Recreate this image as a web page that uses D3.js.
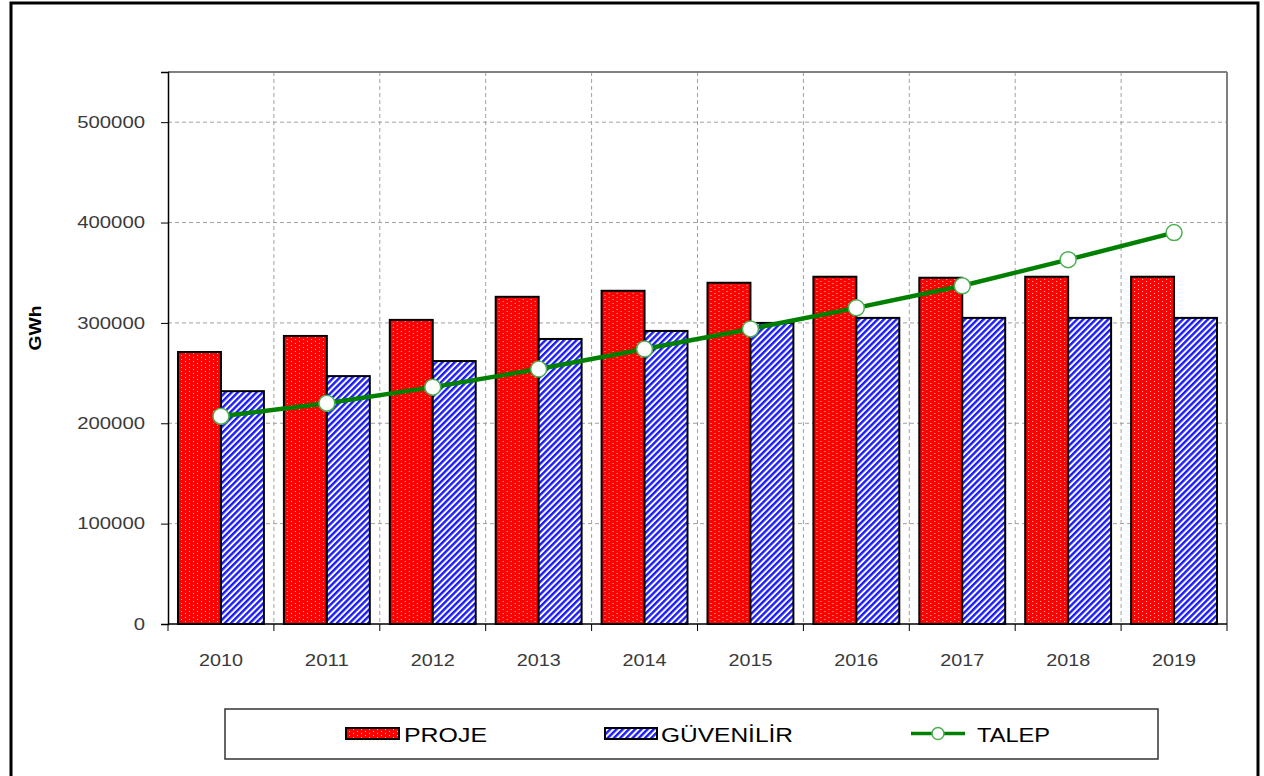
<!DOCTYPE html>
<html>
<head>
<meta charset="utf-8">
<script src="https://cdn.jsdelivr.net/npm/d3@7"></script>
<style>
  html, body { margin: 0; padding: 0; background: #fff; }
  svg { display: block; font-family: "Liberation Sans", Arial, sans-serif; }
</style>
</head>
<body>
<svg id="chart" width="1264" height="776"></svg>
<script>
const years = ["2010","2011","2012","2013","2014","2015","2016","2017","2018","2019"];
const proje = [271000, 287000, 303000, 326000, 332000, 340000, 346000, 345000, 346000, 346000];
const guvenilir = [232000, 247000, 262000, 284000, 292000, 300000, 305000, 305000, 305000, 305000];
const talep = [207000, 220000, 236000, 254000, 274000, 294000, 315000, 337000, 363000, 390000];
const yTicks = [0, 100000, 200000, 300000, 400000, 500000];
const seriesNames = ["PROJE", "GÜVENİLİR", "TALEP"];
const yLabel = "GWh";

const svg = d3.select("#chart");
const defs = svg.append("defs");

// Patterns
const pRed = defs.append("pattern").attr("id","redDots").attr("patternUnits","userSpaceOnUse")
  .attr("width",8).attr("height",4);
pRed.append("rect").attr("width",8).attr("height",4).attr("fill","#ff0000");
pRed.append("rect").attr("x",1).attr("y",1).attr("width",1).attr("height",1).attr("fill","#ffc8c8");
pRed.append("rect").attr("x",5).attr("y",3).attr("width",1).attr("height",1).attr("fill","#ffc8c8");

const pBlue = defs.append("pattern").attr("id","blueStripes").attr("patternUnits","userSpaceOnUse")
  .attr("width",4.4).attr("height",4.4).attr("patternTransform","rotate(45)");
pBlue.append("rect").attr("width",4.4).attr("height",4.4).attr("fill","#ffffff");
pBlue.append("rect").attr("width",2.4).attr("height",4.4).attr("fill","#1a1aff");

// Outer frame
svg.append("rect").attr("x",11).attr("y",3).attr("width",1247).attr("height",790)
  .attr("fill","none").attr("stroke","#000").attr("stroke-width",3);

const plot = {left:168, right:1227, top:72, bottom:624};

const x0 = d3.scaleBand().domain(years).range([plot.left, plot.right]).padding(0);
const x1 = d3.scaleBand().domain(["PROJE","GUV"]).range([10, x0.bandwidth()-10]).padding(0);
const y = d3.scaleLinear().domain([0, 550000]).range([plot.bottom, plot.top]);

// Grid lines
const grid = svg.append("g");
grid.selectAll("line.h").data(yTicks.filter(d => d > 0)).enter().append("line")
  .attr("x1", plot.left).attr("x2", plot.right)
  .attr("y1", d => y(d)).attr("y2", d => y(d))
  .attr("stroke","#a0a0a0").attr("stroke-width",1).attr("stroke-dasharray","4,3");
grid.selectAll("line.v").data(years.slice(1)).enter().append("line")
  .attr("x1", d => x0(d)).attr("x2", d => x0(d))
  .attr("y1", plot.top).attr("y2", plot.bottom)
  .attr("stroke","#a0a0a0").attr("stroke-width",1).attr("stroke-dasharray","4,3");

// Plot border top/right
svg.append("line").attr("x1",plot.left).attr("x2",plot.right).attr("y1",plot.top).attr("y2",plot.top)
  .attr("stroke","#808080").attr("stroke-width",2);
svg.append("line").attr("x1",plot.right).attr("x2",plot.right).attr("y1",plot.top).attr("y2",plot.bottom)
  .attr("stroke","#808080").attr("stroke-width",2);

// Bars
const groups = svg.append("g").selectAll("g").data(years).enter().append("g")
  .attr("transform", d => `translate(${x0(d)},0)`);
groups.append("rect")
  .attr("x", x1("PROJE")).attr("width", x1.bandwidth())
  .attr("y", (d,i) => y(proje[i])).attr("height", (d,i) => y(0) - y(proje[i]))
  .attr("fill","url(#redDots)").attr("stroke","#000").attr("stroke-width",2);
groups.append("rect")
  .attr("x", x1("GUV")).attr("width", x1.bandwidth())
  .attr("y", (d,i) => y(guvenilir[i])).attr("height", (d,i) => y(0) - y(guvenilir[i]))
  .attr("fill","url(#blueStripes)").attr("stroke","#000").attr("stroke-width",2);

// Axes
const yAxis = svg.append("g").attr("transform",`translate(${plot.left},0)`)
  .call(d3.axisLeft(y).tickValues(yTicks).tickSize(7).tickPadding(16).tickFormat(d3.format("d")));
yAxis.select(".domain").attr("stroke","#000").attr("stroke-width",1.5);
yAxis.selectAll(".tick line").attr("stroke","#000");
yAxis.selectAll(".tick text").attr("font-size",16.5).attr("fill","#3a3a3a")
  .attr("font-family","'Liberation Sans', Arial, sans-serif")
  .attr("textLength", d => String(d).length * 11.3).attr("lengthAdjust","spacingAndGlyphs");

// X axis line and boundary ticks
svg.append("line").attr("x1",plot.left).attr("x2",plot.right).attr("y1",plot.bottom).attr("y2",plot.bottom)
  .attr("stroke","#000").attr("stroke-width",1.5);
const bounds = years.map(d => x0(d)).concat([plot.right]);
svg.append("g").selectAll("line").data(bounds).enter().append("line")
  .attr("x1", d => d).attr("x2", d => d).attr("y1", plot.bottom).attr("y2", plot.bottom + 7)
  .attr("stroke","#000").attr("stroke-width",1);
svg.append("g").selectAll("text").data(years).enter().append("text")
  .attr("x", d => x0(d) + x0.bandwidth()/2).attr("y", 666)
  .attr("text-anchor","middle").attr("font-size",16.5).attr("fill","#3a3a3a")
  .attr("textLength", d => d.length * 11).attr("lengthAdjust","spacingAndGlyphs")
  .text(d => d);

// Y label
svg.append("text").attr("transform","translate(41,328) rotate(-90)")
  .attr("text-anchor","middle").attr("font-size",17).attr("font-weight","bold").attr("fill","#000")
  .attr("textLength",45).attr("lengthAdjust","spacingAndGlyphs")
  .text(yLabel);

// Talep line
const cx = (d) => x0(d) + x0.bandwidth()/2;
const line = d3.line().x((d,i) => cx(years[i])).y(d => y(d));
svg.append("path").datum(talep).attr("d", line)
  .attr("fill","none").attr("stroke","#008000").attr("stroke-width",4.5);
svg.append("g").selectAll("circle").data(talep).enter().append("circle")
  .attr("cx", (d,i) => cx(years[i])).attr("cy", d => y(d)).attr("r", 8)
  .attr("fill","#fff").attr("stroke","#4caf50").attr("stroke-width",1.5);

// Legend
const lg = svg.append("g");
lg.append("rect").attr("x",225).attr("y",709).attr("width",933).attr("height",50)
  .attr("fill","#fff").attr("stroke","#333").attr("stroke-width",1.5);
lg.append("rect").attr("x",346).attr("y",728).attr("width",53).attr("height",11)
  .attr("fill","url(#redDots)").attr("stroke","#000").attr("stroke-width",2);
lg.append("rect").attr("x",605).attr("y",728).attr("width",52).attr("height",11)
  .attr("fill","url(#blueStripes)").attr("stroke","#000").attr("stroke-width",2);
lg.append("line").attr("x1",911).attr("x2",965).attr("y1",733.5).attr("y2",733.5)
  .attr("stroke","#008000").attr("stroke-width",3.5);
lg.append("circle").attr("cx",938).attr("cy",733.5).attr("r",6)
  .attr("fill","#fff").attr("stroke","#4caf50").attr("stroke-width",1.5);
const legTexts = [
  {t: seriesNames[0], x: 404, w: 83},
  {t: seriesNames[1], x: 661, w: 132},
  {t: seriesNames[2], x: 977, w: 73}
];
lg.selectAll("text.l").data(legTexts).enter().append("text")
  .attr("x", d => d.x).attr("y", 742).attr("font-size",19.5).attr("fill","#000")
  .attr("textLength", d => d.w).attr("lengthAdjust","spacingAndGlyphs")
  .text(d => d.t);
</script>
</body>
</html>
